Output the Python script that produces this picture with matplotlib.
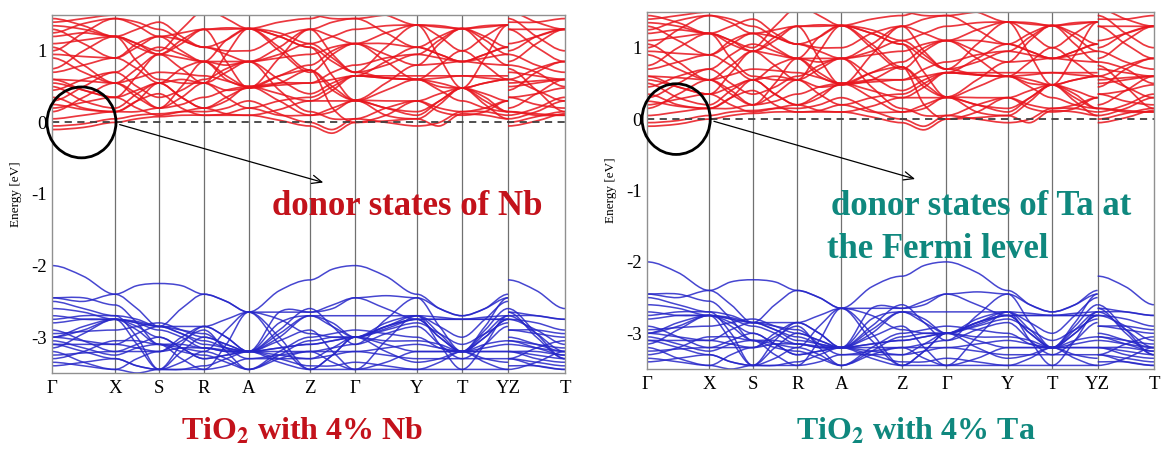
import matplotlib
matplotlib.use("Agg")
import matplotlib.pyplot as plt
from matplotlib.path import Path
from matplotlib.patches import PathPatch, Ellipse

# k-path (node positions along the path, same for both panels)
kpos = [0, 63, 107, 152, 196.6, 258, 303, 365, 410, 456, 513]
klabels = ["Γ", "X", "S", "R", "A", "Z", "Γ", "Y", "T", "YZ", "T"]

# band energies (eV) at nodes: Γ X S R A Z Γ Y T Y | Z T
# and at the middle of each segment: ΓX XS SR RA AZ ZΓ ΓY YT TY ZT
# (the Nb and Ta panels look the same, so both use these readings)
cond_nodes = [
    [-0.10, 0.00, 0.08, 0.10, 0.10, -0.05, 0.00, 0.05, 0.12, 0.05, -0.05, 0.12],
    [-0.05, 0.05, 0.12, 0.15, 0.30, 0.00, 0.05, -0.05, 0.15, 0.10, 0.00, 0.15],
    [0.05, 0.15, 0.20, 0.35, 0.50, 0.10, 0.30, 0.10, 0.48, 0.15, 0.10, 0.35],
    [0.35, 0.15, 0.55, 0.85, 0.50, 0.30, 0.30, 0.60, 0.48, 0.60, 0.35, 0.48],
    [0.50, 0.20, 0.55, 0.20, 0.50, 0.73, 0.00, 0.30, 0.15, 0.30, 0.75, 0.15],
    [0.60, 0.35, 0.10, 0.20, 0.48, 0.73, 0.31, 0.05, 0.48, 0.05, 0.80, 0.50],
    [0.75, 1.20, 0.95, 0.55, 0.48, 0.80, 1.10, 0.60, 0.48, 0.60, 0.60, 0.30],
    [0.90, 0.55, 0.95, 0.85, 1.31, 0.73, 0.31, 0.80, 1.31, 0.80, 0.20, 0.60],
    [1.05, 0.55, 0.20, 0.55, 1.31, 0.70, 1.10, 1.36, 0.48, 1.36, 0.45, 0.85],
    [1.20, 1.20, 0.95, 1.30, 1.31, 1.05, 0.70, 1.36, 1.31, 1.36, 1.00, 1.30],
    [1.30, 0.90, 1.20, 1.30, 0.48, 1.30, 0.70, 0.60, 1.00, 0.60, 1.30, 0.85],
    [1.45, 1.20, 1.40, 1.05, 0.85, 1.30, 1.45, 1.05, 0.85, 1.05, 1.45, 1.00],
    [0.45, 0.70, 0.35, 0.60, 0.85, 0.40, 0.65, 0.65, 0.65, 0.65, 0.50, 0.60],
    [0.25, 0.15, 0.40, 0.10, 0.20, 0.35, 0.65, 0.60, 0.30, 0.15, 0.15, 0.10],
    [1.00, 1.45, 1.20, 0.85, 0.85, 1.10, 1.30, 1.36, 1.00, 1.36, 1.30, 1.30],
    [1.40, 1.50, 1.60, 1.60, 1.31, 1.45, 1.60, 1.36, 1.31, 1.36, 1.55, 1.30],
    [0.15, 0.55, 0.20, 0.85, 0.85, 0.15, 0.05, 0.30, 0.10, 0.30, 0.15, 0.10],
    [0.70, 0.90, 1.20, 1.05, 1.00, 1.30, 1.10, 0.80, 0.85, 0.80, 0.95, 0.70],
    [1.10, 1.20, 0.60, 0.55, 0.85, 0.95, 1.10, 1.05, 1.31, 1.05, 0.85, 1.30],
    [0.55, 0.35, 0.95, 1.30, 1.31, 1.05, 0.31, 0.15, 0.48, 0.15, 0.60, 0.85],
    [0.30, 0.70, 1.05, 0.85, 0.50, 0.55, 0.80, 0.95, 0.85, 0.95, 0.70, 0.60],
    [1.35, 1.20, 1.00, 1.55, 1.60, 1.50, 1.45, 1.50, 1.60, 1.50, 1.40, 1.45],
    [0.20, 0.35, 0.55, 0.55, 0.20, 0.10, 0.31, 0.30, 0.48, 0.30, 0.05, 0.30],
    [0.95, 0.90, 0.55, 0.20, 0.10, 0.30, 0.65, 1.05, 0.85, 1.05, 0.35, 0.20],
    [1.25, 1.45, 1.30, 1.05, 1.31, 1.10, 0.70, 0.95, 1.31, 0.95, 1.10, 1.30],
    [0.60, 0.55, 0.70, 0.65, 0.50, 0.55, 0.65, 0.60, 0.65, 0.60, 0.55, 0.60],
]
cond_mids = [
    [-0.07, 0.05, 0.10, 0.10, 0.03, -0.15, 0.02, -0.05, 0.10, 0.02],
    [-0.02, 0.10, 0.15, 0.20, 0.12, -0.10, 0.00, 0.00, 0.15, 0.08],
    [0.10, 0.15, 0.25, 0.45, 0.30, 0.20, 0.20, 0.30, 0.35, 0.20],
    [0.20, 0.30, 0.75, 0.60, 0.40, 0.30, 0.45, 0.55, 0.55, 0.40],
    [0.30, 0.40, 0.35, 0.30, 0.65, 0.20, 0.10, 0.20, 0.20, 0.45],
    [0.45, 0.20, 0.15, 0.35, 0.55, 0.50, 0.10, 0.25, 0.25, 0.70],
    [1.00, 1.10, 0.75, 0.45, 0.65, 1.00, 0.85, 0.50, 0.55, 0.45],
    [0.70, 0.75, 0.90, 1.15, 1.05, 0.45, 0.55, 1.10, 1.05, 0.40],
    [0.80, 0.35, 0.35, 0.95, 1.00, 0.95, 1.25, 0.90, 0.90, 0.70],
    [1.25, 1.05, 1.10, 1.30, 1.20, 0.85, 1.05, 1.35, 1.35, 1.20],
    [1.10, 1.05, 1.25, 0.85, 0.90, 0.95, 0.62, 0.80, 0.80, 1.05],
    [1.35, 1.30, 1.20, 0.95, 1.05, 1.40, 1.25, 0.95, 0.95, 1.20],
    [0.60, 0.50, 0.45, 0.75, 0.60, 0.55, 0.65, 0.65, 0.65, 0.55],
    [0.18, 0.30, 0.20, 0.12, 0.30, 0.50, 0.62, 0.45, 0.20, 0.12],
    [1.25, 1.35, 1.00, 0.80, 0.95, 1.20, 1.35, 1.20, 1.20, 1.30],
    [1.45, 1.55, 1.60, 1.45, 1.40, 1.55, 1.50, 1.33, 1.33, 1.40],
    [0.35, 0.40, 0.50, 0.85, 0.45, 0.05, 0.20, 0.15, 0.15, 0.10],
    [0.80, 1.10, 1.15, 1.00, 1.20, 1.20, 0.95, 0.82, 0.82, 0.80],
    [1.15, 0.85, 0.55, 0.70, 0.90, 1.05, 1.10, 1.20, 1.20, 1.10],
    [0.45, 0.65, 1.15, 1.32, 1.20, 0.65, 0.20, 0.30, 0.30, 0.75],
    [0.50, 0.90, 0.95, 0.65, 0.55, 0.70, 0.90, 0.90, 0.90, 0.65],
    [1.30, 1.10, 1.30, 1.60, 1.55, 1.45, 1.50, 1.55, 1.55, 1.40],
    [0.28, 0.45, 0.60, 0.35, 0.10, 0.15, 0.30, 0.40, 0.40, 0.15],
    [0.92, 0.75, 0.35, 0.12, 0.18, 0.45, 0.85, 0.95, 0.95, 0.25],
    [1.38, 1.40, 1.15, 1.15, 1.25, 0.90, 0.80, 1.15, 1.15, 1.20],
    [0.58, 0.62, 0.68, 0.58, 0.52, 0.60, 0.62, 0.62, 0.62, 0.58],
]

val_nodes = [
    [-2.00, -2.40, -2.85, -3.05, -3.20, -3.45, -3.00, -2.75, -3.20, -2.75, -3.45, -3.20],
    [-2.45, -2.40, -2.25, -2.40, -2.65, -2.20, -2.00, -2.40, -2.70, -2.40, -2.20, -2.60],
    [-2.50, -2.70, -2.85, -2.40, -2.65, -2.65, -2.45, -2.45, -2.70, -2.45, -2.70, -2.75],
    [-2.70, -2.75, -2.85, -2.85, -3.20, -2.65, -2.45, -2.75, -2.75, -2.75, -2.65, -2.75],
    [-2.75, -2.70, -3.45, -2.85, -3.20, -2.70, -3.00, -2.70, -3.20, -2.70, -2.70, -3.20],
    [-3.00, -2.75, -2.90, -3.15, -3.20, -2.70, -3.00, -2.80, -3.10, -2.80, -2.75, -3.10],
    [-3.00, -3.10, -3.20, -2.90, -3.45, -3.05, -3.00, -3.05, -3.20, -3.05, -3.05, -3.15],
    [-3.05, -3.25, -3.10, -3.15, -3.20, -3.10, -3.00, -3.35, -3.20, -3.35, -3.10, -3.20],
    [-3.10, -3.30, -3.45, -3.20, -2.65, -3.45, -3.00, -2.70, -3.45, -2.70, -3.40, -3.45],
    [-2.90, -3.20, -3.20, -3.15, -3.20, -2.90, -3.45, -3.20, -3.20, -3.20, -2.90, -3.00],
    [-3.30, -3.05, -3.10, -3.20, -3.45, -3.20, -3.20, -3.10, -3.20, -3.10, -3.20, -3.35],
    [-3.35, -3.45, -3.45, -3.40, -3.20, -3.40, -3.35, -3.45, -3.45, -3.45, -3.30, -3.40],
    [-2.80, -2.75, -3.10, -3.45, -2.65, -2.95, -3.00, -2.75, -2.75, -2.75, -2.90, -2.95],
    [-3.00, -2.75, -2.85, -2.95, -3.30, -3.20, -3.10, -2.85, -3.30, -2.85, -3.20, -3.25],
    [-3.10, -3.10, -2.85, -3.10, -3.20, -3.20, -3.45, -2.70, -2.75, -2.70, -3.20, -3.30],
    [-2.45, -2.55, -3.10, -3.25, -3.45, -3.00, -2.90, -3.00, -3.20, -2.60, -3.00, -3.20],
    [-3.20, -3.45, -3.20, -2.85, -2.65, -3.45, -3.45, -3.45, -3.20, -3.45, -2.65, -3.30],
    [-3.40, -3.30, -3.45, -3.45, -3.30, -3.30, -3.20, -3.30, -3.30, -3.30, -3.30, -3.45],
    [-2.60, -2.75, -3.00, -3.30, -3.20, -2.70, -2.70, -2.70, -3.00, -2.50, -2.75, -2.90],
    [-3.15, -2.75, -3.45, -3.00, -3.20, -2.60, -3.10, -2.45, -3.20, -2.45, -2.60, -3.30],
    [-3.25, -3.20, -3.00, -3.30, -3.20, -3.30, -3.00, -3.20, -3.20, -3.20, -3.30, -3.05],
    [-2.95, -2.90, -2.80, -3.00, -3.20, -3.10, -3.00, -2.75, -3.20, -2.75, -3.05, -3.25],
]
val_mids = [
    [-2.15, -2.60, -2.95, -3.15, -3.35, -3.25, -2.85, -3.00, -3.00, -3.35],
    [-2.50, -2.28, -2.28, -2.50, -2.35, -2.05, -2.15, -2.60, -2.60, -2.35],
    [-2.60, -2.75, -2.60, -2.50, -2.65, -2.55, -2.42, -2.60, -2.60, -2.70],
    [-2.75, -2.78, -2.85, -3.00, -2.65, -2.60, -2.60, -2.75, -2.75, -2.70],
    [-2.70, -3.00, -3.10, -3.00, -2.80, -2.85, -2.85, -2.95, -2.95, -2.95],
    [-2.85, -2.80, -3.00, -3.20, -3.00, -2.80, -2.90, -2.95, -2.95, -2.90],
    [-3.05, -3.15, -3.05, -3.20, -3.25, -3.00, -3.05, -3.10, -3.10, -3.10],
    [-3.15, -3.15, -3.10, -3.20, -3.15, -3.05, -3.20, -3.30, -3.30, -3.15],
    [-3.20, -3.40, -3.35, -2.90, -3.10, -3.25, -2.80, -3.10, -3.10, -3.40],
    [-3.05, -3.20, -3.15, -3.18, -3.05, -3.20, -3.35, -3.20, -3.20, -2.95],
    [-3.20, -3.05, -3.15, -3.30, -3.30, -3.20, -3.15, -3.15, -3.15, -3.30],
    [-3.40, -3.50, -3.45, -3.30, -3.30, -3.40, -3.40, -3.45, -3.45, -3.35],
    [-2.75, -2.90, -3.30, -3.10, -2.75, -3.00, -2.85, -2.75, -2.75, -2.90],
    [-2.90, -2.80, -2.90, -3.15, -3.25, -3.15, -2.95, -3.10, -3.10, -3.20],
    [-3.10, -2.95, -2.95, -3.15, -3.20, -3.35, -3.05, -2.72, -2.72, -3.25],
    [-2.45, -2.80, -3.20, -3.35, -3.20, -2.95, -2.95, -3.15, -2.90, -3.10],
    [-3.35, -3.30, -3.00, -2.75, -3.00, -3.45, -3.45, -3.35, -3.35, -3.00],
    [-3.35, -3.40, -3.45, -3.40, -3.30, -3.25, -3.25, -3.30, -3.30, -3.40],
    [-2.65, -2.85, -3.15, -3.25, -2.95, -2.70, -2.70, -2.85, -2.75, -2.80],
    [-2.95, -3.10, -3.20, -3.10, -2.90, -2.85, -2.75, -2.85, -2.85, -2.95],
    [-3.22, -3.10, -3.15, -3.25, -3.25, -3.15, -3.10, -3.20, -3.20, -3.15],
    [-2.92, -2.85, -2.90, -3.10, -3.15, -3.05, -2.88, -3.00, -3.00, -3.15],
]

yticks = [-3, -2, -1, 0, 1]
ytick_labels = ["-3", "-2", "-1", "0", "1"]

red = "#e8141c"
blue = "#2626c8"
red_txt = "#c3121b"
teal_txt = "#0f887e"
serif = ["Liberation Serif", "DejaVu Serif"]
plt.rcParams["mathtext.fontset"] = "stix"


def band_path(nodes, mids):
    # smooth bezier path through node and mid values, flat at the nodes
    verts = [(kpos[0], nodes[0])]
    codes = [Path.MOVETO]
    for i in range(10):
        xa, xb = kpos[i], kpos[i + 1]
        if i < 9:
            ya, yb = nodes[i], nodes[i + 1]
        else:
            ya, yb = nodes[10], nodes[11]
            verts.append((xa, ya))
            codes.append(Path.MOVETO)
        xm, ym = (xa + xb) / 2, mids[i]
        h = (xb - xa) / 2
        s = (yb - ya) / (xb - xa)
        verts += [(xa + h / 3, ya), (xm - h / 3, ym - s * h / 3), (xm, ym),
                  (xm + h / 3, ym + s * h / 3), (xb - h / 3, yb), (xb, yb)]
        codes += [Path.CURVE4] * 6
    return Path(verts, codes)


def draw_panel(ax):
    for n, m in zip(cond_nodes, cond_mids):
        ax.add_patch(PathPatch(band_path(n, m), fc="none", ec=red, lw=1.25, alpha=0.85))
    for n, m in zip(val_nodes, val_mids):
        ax.add_patch(PathPatch(band_path(n, m), fc="none", ec=blue, lw=1.1, alpha=0.85))
    for x in kpos[1:-1]:
        ax.axvline(x, color="#707070", lw=0.9, zorder=0.5)
    ax.axhline(0, color="#404040", lw=1.3, ls=(0, (4, 3)))
    ax.set_xlim(kpos[0], kpos[-1])
    ax.set_ylim(-3.5, 1.5)
    ax.set_xticks(kpos)
    ax.set_xticklabels(klabels, family=serif, fontsize=13.5)
    ax.set_yticks(yticks)
    ax.set_yticklabels(ytick_labels, family=serif, fontsize=13.5)
    ax.tick_params(length=0, pad=4)
    ax.tick_params(axis="x", pad=5)
    for sp in ax.spines.values():
        sp.set_color("#909090")
        sp.set_linewidth(1.0)
    ax.set_ylabel("Energy [eV]", family=serif, fontsize=9.5, labelpad=6)
    ax.add_patch(Ellipse((29.5, 0.0), 69, 0.99, fc="none", ec="black", lw=2.0,
                         clip_on=False, zorder=5))
    ax.annotate("", xy=(274, -0.85), xytext=(65, -0.02),
                arrowprops=dict(arrowstyle="->,head_length=0.7,head_width=0.3",
                                color="black", lw=0.9), zorder=6)


fig = plt.figure(figsize=(11.61, 4.53), dpi=100)
ax1 = fig.add_axes([0.04479, 0.17660, 0.44186, 0.79029])
ax2 = fig.add_axes([0.55728, 0.18543, 0.43669, 0.78808])
draw_panel(ax1)
draw_panel(ax2)

fig.text(272 / 1161, 1 - 215 / 453, "donor states of Nb", color=red_txt,
         family=serif, fontweight="bold", fontsize=25, va="baseline")
fig.text(831 / 1161, 1 - 215 / 453, "donor states of Ta at", color=teal_txt,
         family=serif, fontweight="bold", fontsize=25, va="baseline")
fig.text(827 / 1161, 1 - 258 / 453, "the Fermi level", color=teal_txt,
         family=serif, fontweight="bold", fontsize=25, va="baseline")

fig.text(302 / 1161, 1 - 440 / 453, r"TiO$_\mathbf{2}$ with 4% Nb", color=red_txt,
         family=serif, fontweight="bold", fontsize=23, ha="center", va="baseline")
fig.text(916 / 1161, 1 - 440 / 453, r"TiO$_\mathbf{2}$ with 4% Ta", color=teal_txt,
         family=serif, fontweight="bold", fontsize=23, ha="center", va="baseline")

fig.savefig("out.png", dpi=100)
